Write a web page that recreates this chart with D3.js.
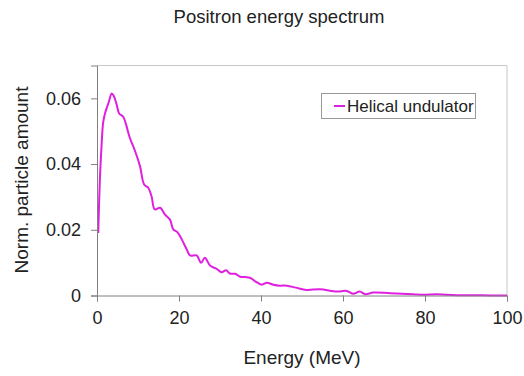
<!DOCTYPE html>
<html><head><meta charset="utf-8">
<script src="https://cdn.jsdelivr.net/npm/d3@7"></script>
<style>
html,body{margin:0;padding:0;background:#fff;}
text{font-family:"Liberation Sans",Arial,sans-serif;fill:#222;}
</style></head>
<body><svg id="c" width="524" height="376"></svg>
<script>
const title = "Positron energy spectrum";
const xLabel = "Energy (MeV)";
const yLabel = "Norm. particle amount";
const seriesName = "Helical undulator";
const xTicks = [0, 20, 40, 60, 80, 100];
const yTicks = [0, 0.02, 0.04, 0.06];
const energy = [0.3, 0.7, 1.1, 1.5, 2.0, 2.8, 3.6, 4.1, 4.8, 5.4, 6.4, 7.1, 8.0, 9.3, 10.5, 11.5, 12.5, 13.3, 14.1, 15.4, 16.6, 17.8, 18.6, 19.6, 20.7, 21.9, 22.7, 24.3, 25.4, 26.3, 27.6, 29.2, 30.4, 31.5, 32.4, 33.7, 34.9, 36.1, 37.3, 38.5, 40.2, 41.4, 43.0, 44.6, 46.3, 48.5, 51.1, 54.4, 58.5, 60.9, 62.5, 64.1, 65.4, 67.4, 71.5, 77.2, 79.5, 82.9, 85.3, 88, 92, 96, 100];
const amount = [0.019, 0.0353, 0.0454, 0.0526, 0.0556, 0.0586, 0.0615, 0.0607, 0.0581, 0.0554, 0.0544, 0.052, 0.048, 0.0439, 0.0393, 0.0338, 0.0328, 0.0302, 0.0262, 0.0267, 0.0246, 0.0231, 0.0201, 0.0193, 0.017, 0.014, 0.0122, 0.0122, 0.00995, 0.0115, 0.0091, 0.0081, 0.0071, 0.0077, 0.0067, 0.0066, 0.0057, 0.0056, 0.0054, 0.0044, 0.0033, 0.0039, 0.0033, 0.003, 0.003, 0.0024, 0.0017, 0.0019, 0.0012, 0.0014, 0.0005, 0.0012, 0.0004, 0.0009, 0.0007, 0.0004, 0.0002, 0.0004, 0.0002, 0.0001, 0.0001, 0, 0];

const svg = d3.select("#c");
const L = 97, R = 507, T = 65.5, B = 295.5;
const x = d3.scaleLinear().domain([0, 100]).range([L, R]);
const y = d3.scaleLinear().domain([0, 0.07]).range([B, T]);

// plot border (top, right)
svg.append("path")
  .attr("d", `M${L},${T}H${R}V${B}`)
  .attr("fill", "none").attr("stroke", "#c8c8c8").attr("stroke-width", 1);

const data = energy.map((e, i) => [e, amount[i]]);
svg.append("path").datum(data)
  .attr("fill", "none").attr("stroke", "#e020e0").attr("stroke-width", 2)
  .attr("stroke-linejoin", "round")
  .attr("d", d3.line().x(d => x(d[0])).y(d => y(d[1])).curve(d3.curveCatmullRom));

const xAxis = svg.append("g").attr("transform", `translate(0,${B})`)
  .call(d3.axisBottom(x).tickValues(xTicks).tickFormat(d3.format("d")).tickSize(6).tickPadding(10));
const yAxis = svg.append("g").attr("transform", `translate(${L},0)`)
  .call(d3.axisLeft(y).tickValues(yTicks).tickFormat(d => d === 0 ? "0" : d3.format(".2f")(d)).tickSize(6).tickPadding(10));
[xAxis, yAxis].forEach(a => {
  a.select(".domain").attr("stroke", "#808080");
  a.selectAll(".tick line").attr("stroke", "#808080");
  a.selectAll(".tick text").attr("font-size", 18).attr("fill", "#222")
   .attr("font-family", "Liberation Sans, Arial, sans-serif");
});

svg.append("text").attr("x", 279).attr("y", 23).attr("text-anchor", "middle")
  .attr("font-size", 18.5).text(title);
svg.append("text").attr("x", 302).attr("y", 364).attr("text-anchor", "middle")
  .attr("font-size", 19).text(xLabel);
svg.append("text").attr("transform", "translate(28,180) rotate(-90)").attr("text-anchor", "middle")
  .attr("font-size", 19).text(yLabel);

// legend
const lg = svg.append("g");
lg.append("rect").attr("x", 321.5).attr("y", 93.5).attr("width", 154).attr("height", 25)
  .attr("fill", "#fff").attr("stroke", "#999");
lg.append("line").attr("x1", 334).attr("x2", 345).attr("y1", 106).attr("y2", 106)
  .attr("stroke", "#e020e0").attr("stroke-width", 2);
lg.append("text").attr("x", 347).attr("y", 112).attr("font-size", 17).text(seriesName);
</script></body></html>
